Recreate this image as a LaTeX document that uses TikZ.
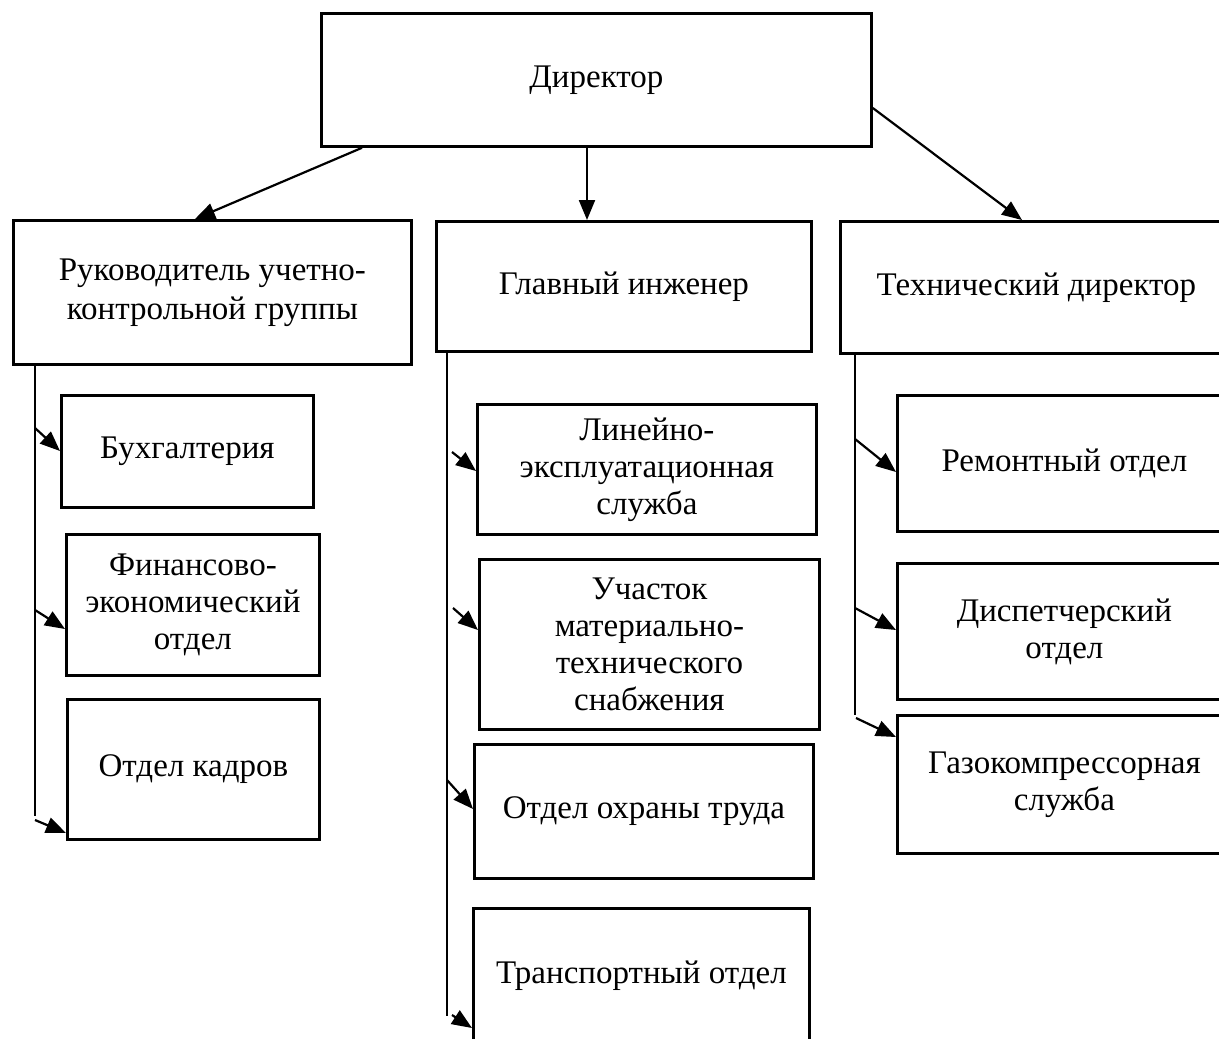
\documentclass[tikz,border=0pt]{standalone}
\usepackage{fontspec}
\setmainfont{Liberation Serif}
\usetikzlibrary{arrows.meta}
\begin{document}
\begin{tikzpicture}[x=1pt,y=-1pt,
  box/.style={draw, line width=2.8pt, rectangle, anchor=north west, align=center,
    inner sep=0pt, font=\fontsize{33}{37}\selectfont},
  conn/.style={line width=2.2pt},
  arr/.style={line width=2.2pt, -{Triangle[length=20pt,width=16pt]}}]
\useasboundingbox (0,0) rectangle (1219,1039);
\clip (0,0) rectangle (1219,1039);
% top
\node[box, minimum width=550pt, minimum height=133pt] (dir) at (320,12) {Директор};
\node[box, minimum width=398pt, minimum height=144pt] (A) at (12,219) {Руководитель учетно-\\[2pt]контрольной группы};
\node[box, minimum width=375pt, minimum height=130pt] (B) at (435,220) {Главный инженер};
\node[box, minimum width=392pt, minimum height=132pt] (C) at (839,220) {Технический директор};
% left column
\node[box, minimum width=252pt, minimum height=112pt] (buh) at (60,394) {Бухгалтерия};
\node[box, minimum width=253pt, minimum height=141pt] (fin) at (65,533) {Финансово-\\экономический\\отдел};
\node[box, minimum width=252pt, minimum height=140pt] (kadr) at (66,698) {Отдел кадров};
% middle column
\node[box, minimum width=339pt, minimum height=130pt] (lin) at (476,403) {Линейно-\\эксплуатационная\\служба};
\node[box, minimum width=340pt, minimum height=170pt] (uch) at (478,558) {Участок\\материально-\\технического\\снабжения};
\node[box, minimum width=339pt, minimum height=134pt] (ohr) at (473,743) {Отдел охраны труда};
\node[box, minimum width=336pt, minimum height=135pt] (tr) at (472,907) {Транспортный отдел};
% right column
\node[box, minimum width=334pt, minimum height=136pt] (rem) at (896,394) {Ремонтный отдел};
\node[box, minimum width=334pt, minimum height=136pt] (disp) at (896,562) {Диспетчерский\\отдел};
\node[box, minimum width=334pt, minimum height=138pt] (gaz) at (896,714) {Газокомпрессорная\\служба};
% director arrows
\draw[arr] ([xshift=42pt]dir.south west) -- ([xshift=183pt]A.north west);
\draw[arr] ([xshift=267pt]dir.south west) -- ([xshift=152pt]B.north west);
\draw[arr] ([yshift=-96pt]dir.north east) -- ([xshift=183pt]C.north west);
% trunks
\draw[conn] ([xshift=23pt]A.south west) -- ++(0,450);
\draw[conn] ([xshift=12pt]B.south west) -- ++(0,663);
\draw[conn] ([xshift=16pt]C.south west) -- ++(0,360);
% left arrows
\coordinate (l1) at (35,428);
\coordinate (l2) at (35,610);
\coordinate (l3) at (35,820);
\draw[arr] (l1) -- ([yshift=-57pt]buh.north west);
\draw[arr] (l2) -- ([yshift=-96pt]fin.north west);
\draw[arr] (l3) -- ([yshift=-135pt]kadr.north west);
% middle arrows
\coordinate (m1) at (452,452);
\coordinate (m2) at (453,608);
\coordinate (m3) at (447,780);
\coordinate (m4) at (452,1015);
\draw[arr] (m1) -- ([yshift=-68pt]lin.north west);
\draw[arr] (m2) -- ([yshift=-72pt]uch.north west);
\draw[arr] (m3) -- ([yshift=-66pt]ohr.north west);
\draw[arr] (m4) -- ([yshift=-121pt]tr.north west);
% right arrows
\coordinate (r1) at (855,439);
\coordinate (r2) at (855,608);
\coordinate (r3) at (856,718);
\draw[arr] (r1) -- ([yshift=-78pt]rem.north west);
\draw[arr] (r2) -- ([yshift=-68pt]disp.north west);
\draw[arr] (r3) -- ([yshift=-23pt]gaz.north west);
\end{tikzpicture}
\end{document}
